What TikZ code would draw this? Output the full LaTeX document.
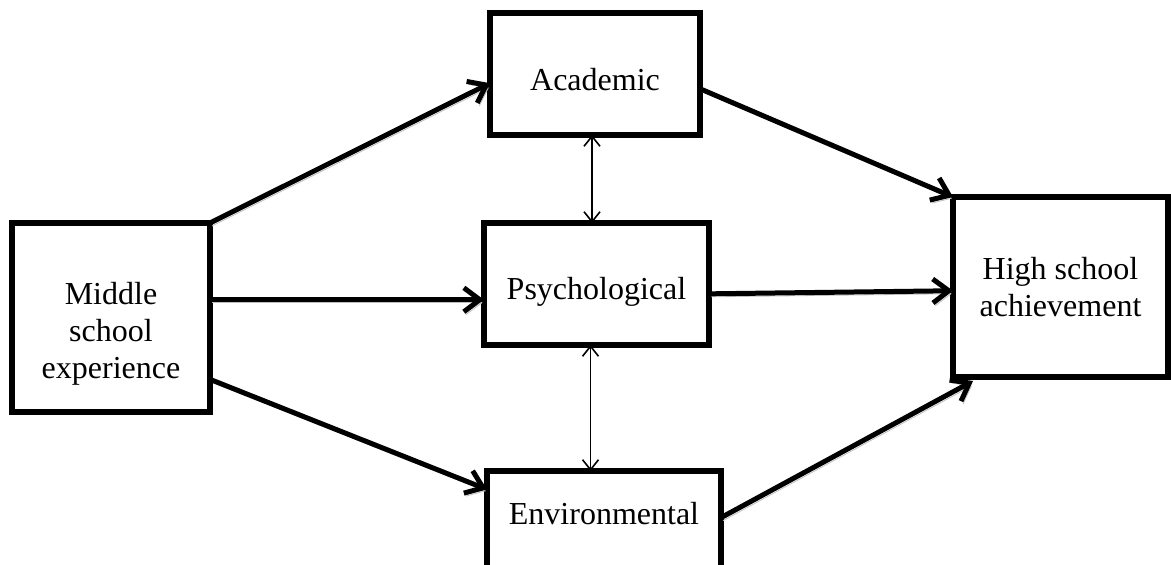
\documentclass[tikz,border=0pt]{standalone}
\usepackage{fontspec}
\setmainfont{Liberation Serif}
\usetikzlibrary{arrows.meta}

\begin{document}
\begin{tikzpicture}[x=0.5pt,y=-0.5pt,font=\fontsize{16}{18.5}\selectfont,
	box/.style={draw=black,line width=2.7pt,align=center,outer sep=0pt,inner sep=0pt},
	flow/.style={-{Straight Barb[length=8pt,width=12pt]},line width=2.5pt,
		preaction={draw=black!25,transform canvas={shift={(1pt,-1.5pt)}}}},
	link/.style={{Straight Barb[length=5pt,width=8pt]}-{Straight Barb[length=5pt,width=8pt]},line width=0.8pt}]
	\path[use as bounding box,clip] (0,0) rectangle (1171,565);

	\node [box,minimum width=99pt,minimum height=94.5pt,text height=64pt] at (111,317.5) (mid) {Middle\\school\\experience};
	\node [box,minimum width=105pt,minimum height=61pt,text height=17pt,text depth=0pt] at (595,74) (acad) {Academic};
	\node [box,minimum width=112.5pt,minimum height=61pt,text height=16pt,text depth=0pt] at (596.5,284) (psych) {Psychological};
	\node [box,minimum width=117pt,minimum height=61pt] at (604,532) (env) {Environmental\\~};
	\node [box,minimum width=107.5pt,minimum height=90pt] at (1060.5,287) (high) {High school\\achievement};

	\draw[flow] (mid.north east) -- (acad.185);
	\draw[flow] (mid.east |- psych.188) -- (psych.188);
	\draw[flow] (mid.328) -- (env.160);

	\draw[flow] (acad.352) -- (high.north west);
	\draw[flow] (psych.355) -- (high.182);
	\draw[flow] (env.7) -- ([xshift=10pt,yshift=-2pt]high.south west);

	\draw[link] ([xshift=-1.5pt]acad.south) -- ([xshift=-1.5pt]acad.south |- psych.north);
	\draw[link] ([xshift=-3pt]psych.south) -- ([xshift=-3pt]psych.south |- env.north);
\end{tikzpicture}
\end{document}
